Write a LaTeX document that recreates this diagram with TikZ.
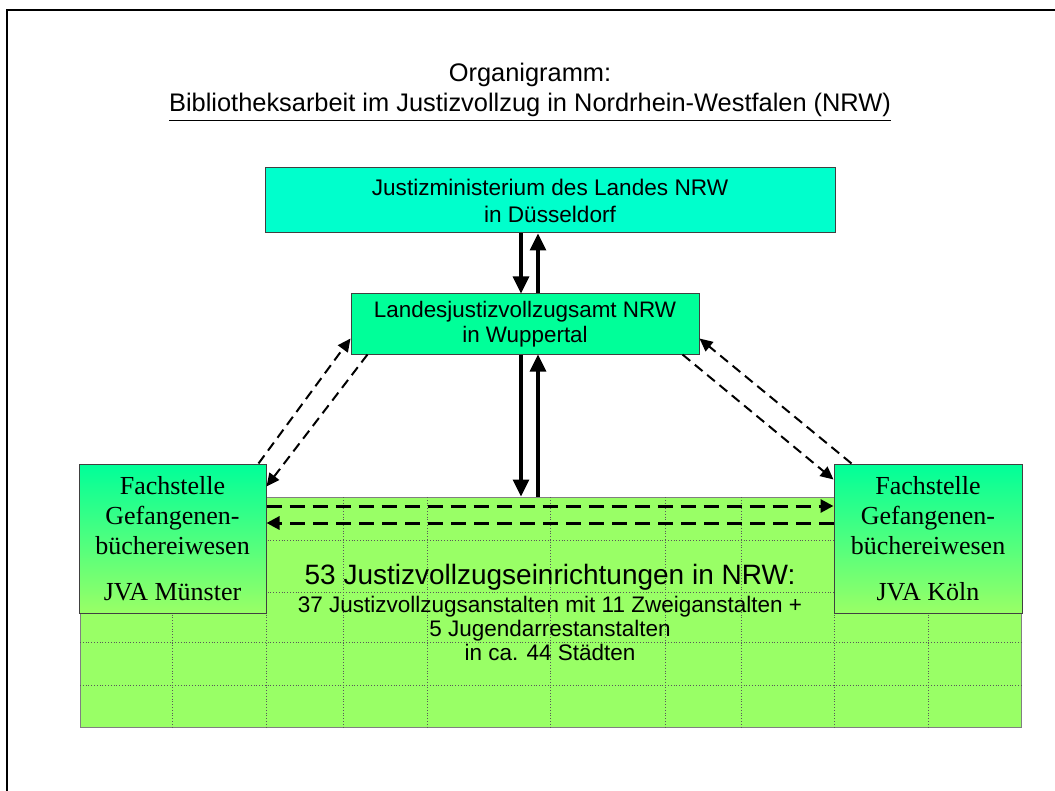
\documentclass[tikz,border=0pt]{standalone}
\usepackage{fontspec}
\setmainfont{Liberation Sans}
\newfontfamily\serifnrw{Liberation Serif}
\usepackage{tikz}
\usetikzlibrary{arrows.meta,
                calc,
                positioning}
\definecolor{jmcyan}{RGB}{0,255,204}
\definecolor{amtgreen}{RGB}{0,255,153}
\definecolor{gridgreen}{RGB}{153,255,102}

\begin{document}
\begin{tikzpicture}[x=0.5pt,y=-0.5pt,
    box/.style={draw=black!75, line width=0.5pt, align=center, inner sep=0pt},
    fachbox/.style={box, top color=amtgreen, bottom color=gridgreen,
                    minimum width=94pt, minimum height=74.5pt,
                    font=\serifnrw\fontsize{13}{15}\selectfont},
    updown/.style={line width=1.6pt, -{Triangle[length=8.5pt,width=8pt]}},
    link/.style={line width=1pt, dash pattern=on 5pt off 3pt, -{Triangle[length=6.5pt,width=6pt]}},
    across/.style={line width=1.5pt, dash pattern=on 7.5pt off 4pt, -{Triangle[length=6.5pt,width=6.5pt]}}]

    \useasboundingbox (0,0) rectangle (1055,791);
    \draw[line width=1pt] (7,791) -- (7,10) -- (1055,10);

    % heading
    \node[anchor=base, font=\fontsize{12.7}{14}\selectfont] (title) at (530,82) {Organigramm:};
    \node[anchor=base, font=\fontsize{12.7}{14}\selectfont] (subtitle) at (530,112)
        {\underline{Bibliotheksarbeit im Justizvollzug in Nordrhein-Westfalen (NRW)}};

    % ministry and office
    \node[box, fill=jmcyan, minimum width=285pt, minimum height=32.5pt,
          font=\fontsize{11.3}{13.5}\selectfont] (min) at (550,200.5)
        {Justizministerium des Landes NRW\\in Düsseldorf};
    \node[box, fill=amtgreen, minimum width=174pt, minimum height=30pt,
          font=\fontsize{11.2}{12.5}\selectfont] (amt) [below=30pt of min, xshift=-12.5pt]
        {Landesjustizvollzugsamt NRW\\in Wuppertal};

    % institutions
    \node[draw=black!50, line width=0.5pt, fill=gridgreen, minimum width=470.5pt,
          minimum height=115pt, inner sep=0pt] (einr) at (550.5,612) {};
    \foreach \gy in {540,592,642,685}
        \draw[densely dotted, black!65, line width=0.4pt] (80,\gy) -- (1021,\gy);
    \foreach \gx in {172,266,343,427,550,665,741,834,928}
        \draw[densely dotted, black!65, line width=0.4pt] (\gx,497) -- (\gx,727);
    \node[align=center, inner sep=0pt, font=\fontsize{11.25}{12}\selectfont] (einrtext) at (550,612)
        {{\fontsize{14}{14}\selectfont 53 Justizvollzugseinrichtungen in NRW:}\\[2pt]
         37 Justizvollzugsanstalten mit 11 Zweiganstalten +\\
         5 Jugendarrestanstalten\\
         in ca. 44 Städten};

    \node[fachbox, minimum width=93.5pt] (fmu) at (172.5,538.5)
        {Fachstelle\\Gefangenen-\\büchereiwesen\\[8pt]JVA Münster};
    \node[fachbox] (fko) at (928,538.5)
        {Fachstelle\\Gefangenen-\\büchereiwesen\\[8pt]JVA Köln};

    % connectors
    \coordinate (lft) at (521,0);
    \coordinate (rgt) at (538,0);
    \draw[updown] (min.south -| lft) -- (amt.north -| lft);
    \draw[updown] (amt.north -| rgt) -- (min.south -| rgt);
    \draw[updown] (amt.south -| lft) -- (einr.north -| lft);
    \draw[updown] (einr.north -| rgt) -- (amt.south -| rgt);

    \draw[link] ($(fmu.north east)+(-8,0)$) -- ($(amt.south west)+(0,-16)$);
    \draw[link] ($(amt.south west)+(17,0)$) -- ($(fmu.north east)+(0,23)$);
    \draw[link] ($(fko.north west)+(18,0)$) -- ($(amt.south east)+(0,-16)$);
    \draw[link] ($(amt.south east)+(-17,0)$) -- ($(fko.north west)+(0,16)$);

    \coordinate (hi) at (0,506);
    \coordinate (lo) at (0,523);
    \draw[across] (fmu.east |- hi) -- (fko.west |- hi);
    \draw[across] (fko.west |- lo) -- (fmu.east |- lo);

\end{tikzpicture}
\end{document}
